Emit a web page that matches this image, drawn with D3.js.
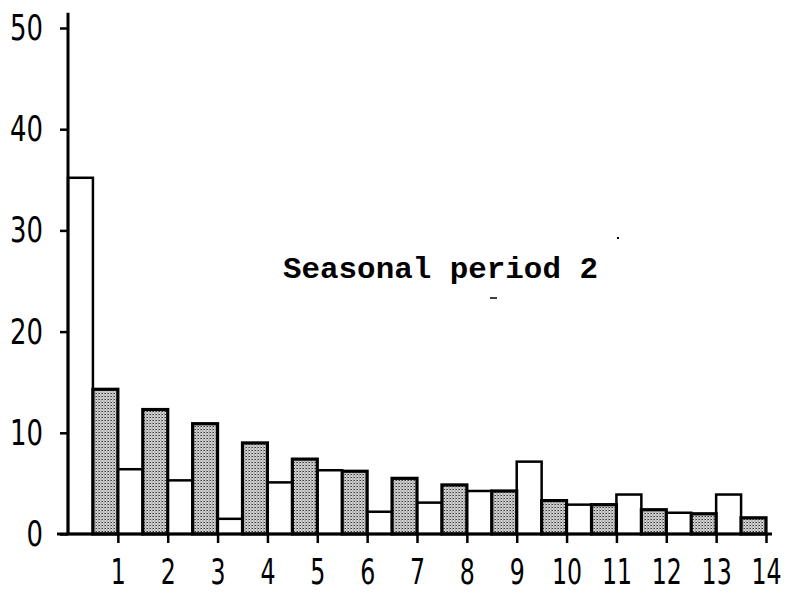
<!DOCTYPE html>
<html>
<head>
<meta charset="utf-8">
<script src="https://cdn.jsdelivr.net/npm/d3@7"></script>
<style>
  html, body { margin: 0; padding: 0; background: #fff; }
  svg { display: block; }
</style>
</head>
<body>
<svg id="chart" width="791" height="595"></svg>
<script>
// ---- data ----
const categories = [1, 2, 3, 4, 5, 6, 7, 8, 9, 10, 11, 12, 13, 14];
const whiteValues = [35.2, 6.4, 5.3, 1.5, 5.1, 6.3, 2.2, 3.1, 4.25, 7.15, 2.9, 3.9, 2.1, 3.9];
const shadedValues = [14.3, 12.3, 10.9, 9.0, 7.4, 6.2, 5.5, 4.85, 4.25, 3.3, 2.9, 2.4, 2.0, 1.6];
const yTicks = [0, 10, 20, 30, 40, 50];
const xTickLabels = categories.map(String);
const title = "Seasonal period 2";

// ---- layout ----
const svg = d3.select("#chart");
const x = d3.scaleLinear().domain([0, 14]).range([68, 766]);
const y = d3.scaleLinear().domain([0, 50]).range([534, 28]);

const defs = svg.append("defs");
const pat = defs.append("pattern")
  .attr("id", "stipple").attr("patternUnits", "userSpaceOnUse")
  .attr("width", 3).attr("height", 3);
pat.append("rect").attr("width", 3).attr("height", 3).attr("fill", "#d8d8d8");
pat.append("rect").attr("x", 0).attr("y", 0).attr("width", 1).attr("height", 1).attr("fill", "#333");
pat.append("rect").attr("x", 1.5).attr("y", 1.5).attr("width", 1).attr("height", 1).attr("fill", "#555");
pat.append("rect").attr("x", 2).attr("y", 0).attr("width", 1).attr("height", 1).attr("fill", "#888");

const labelFont = "'DejaVu Sans Condensed', 'DejaVu Sans', sans-serif";

// white bars: left half of each interval [k-1, k]
svg.append("g").selectAll("rect")
  .data(categories)
  .join("rect")
  .attr("x", (d) => x(d - 1))
  .attr("width", (d) => x(d - 0.5) - x(d - 1))
  .attr("y", (d, i) => y(whiteValues[i]))
  .attr("height", (d, i) => y(0) - y(whiteValues[i]))
  .attr("fill", "#fff")
  .attr("stroke", "#000")
  .attr("stroke-width", 2.5);

// shaded bars: right half of each interval
svg.append("g").selectAll("rect")
  .data(categories)
  .join("rect")
  .attr("x", (d) => x(d - 0.5))
  .attr("width", (d) => x(d) - x(d - 0.5))
  .attr("y", (d, i) => y(shadedValues[i]))
  .attr("height", (d, i) => y(0) - y(shadedValues[i]))
  .attr("fill", "url(#stipple)")
  .attr("stroke", "#000")
  .attr("stroke-width", 3.2);

function narrow(sel, f) {
  sel.each(function () {
    const w = this.getComputedTextLength();
    d3.select(this).attr("textLength", w * f).attr("lengthAdjust", "spacingAndGlyphs");
  });
}

// axes
const yAxis = d3.axisLeft(y).tickValues(yTicks).tickSize(8).tickPadding(17).tickSizeOuter(0);
const gy = svg.append("g").attr("transform", `translate(${x(0)},0)`).call(yAxis);
gy.select(".domain").remove();
gy.selectAll(".tick line").attr("stroke", "#000").attr("stroke-width", 2.5);
gy.selectAll(".tick text")
  .attr("font-family", labelFont).attr("font-size", 36).attr("fill", "#000")
  .call(narrow, 0.8);

const xAxis = d3.axisBottom(x).tickValues(categories).tickFormat((d, i) => xTickLabels[i])
  .tickSize(9).tickPadding(16).tickSizeOuter(0);
const gx = svg.append("g").attr("transform", `translate(0,${y(0)})`).call(xAxis);
gx.select(".domain").remove();
gx.selectAll(".tick line").attr("stroke", "#000").attr("stroke-width", 2.5);
gx.selectAll(".tick text")
  .attr("font-family", labelFont).attr("font-size", 35.5).attr("fill", "#000")
  .call(narrow, 0.74);

// axis lines
svg.append("line")
  .attr("x1", x(0)).attr("x2", x(0)).attr("y1", y(0) + 1).attr("y2", y(51.5))
  .attr("stroke", "#000").attr("stroke-width", 3);
svg.append("line")
  .attr("x1", x(-0.22)).attr("x2", x(14.12)).attr("y1", y(0)).attr("y2", y(0))
  .attr("stroke", "#000").attr("stroke-width", 3);

// title
svg.append("text")
  .attr("x", 283).attr("y", 278)
  .attr("font-family", "'Liberation Mono', 'Courier New', monospace")
  .attr("font-weight", "bold").attr("font-size", 29)
  .attr("textLength", 315).attr("lengthAdjust", "spacingAndGlyphs")
  .attr("fill", "#000")
  .text(title);

// small scan marks
svg.append("line").attr("x1", 490).attr("x2", 497).attr("y1", 298).attr("y2", 298)
  .attr("stroke", "#000").attr("stroke-width", 1.5);
svg.append("rect").attr("x", 617).attr("y", 237).attr("width", 2).attr("height", 2).attr("fill", "#000");
</script>
</body>
</html>
